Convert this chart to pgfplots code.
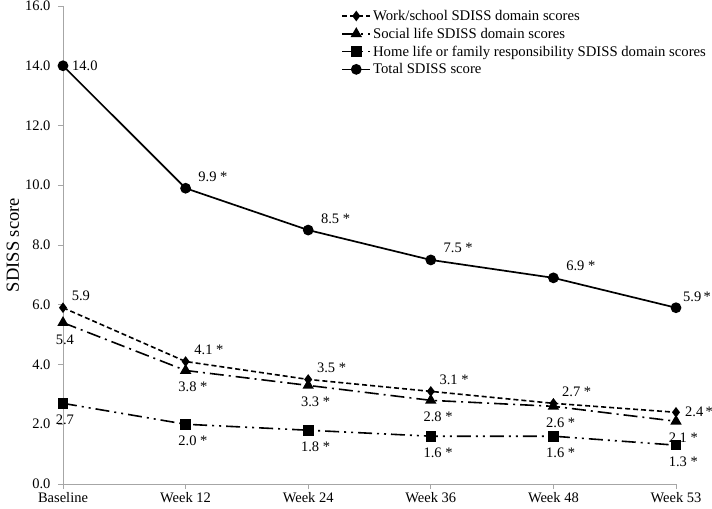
\documentclass[border=0pt]{standalone}
\usepackage{fontspec}
\setmainfont{Liberation Serif}
\usepackage{pgfplots}
\pgfplotsset{compat=1.18}
\newcommand{\lblfont}{\fontsize{14.5bp}{16bp}\selectfont}
\begin{document}
\begin{tikzpicture}
\begin{axis}[
    scale only axis,
    width=613bp, height=478bp,
    xmin=0, xmax=5, ymin=0, ymax=16,
    axis lines*=left,
    axis line style={gray!70, line width=0.8bp},
    tick style={gray!70, line width=0.8bp},
    tick align=outside,
    major tick length=5bp,
    xtick={0,1,2,3,4,5},
    xticklabels={Baseline,Week 12,Week 24,Week 36,Week 48,Week 53},
    ytick={0,2,...,16},
    yticklabel style={xshift=-4bp, /pgf/number format/.cd, fixed, fixed zerofill, precision=1},
    /pgf/number format/assume math mode=true,
    ticklabel style={font=\lblfont, black},
    ylabel={SDISS score},
    every axis y label/.style={at={(axis description cs:-0.082,0.5)}, rotate=90, anchor=center},
    ylabel style={font=\fontsize{18.5bp}{20bp}\selectfont},
    clip=false,
    point meta=explicit symbolic,
    nodes near coords,
    every node near coord/.append style={font=\lblfont, black, inner sep=2bp},
    legend style={at={(0.449,1)}, anchor=north west, draw=none, fill=none,
        font=\fontsize{14.7bp}{17bp}\selectfont, row sep=2bp,
        cells={anchor=west}},
    legend image code/.code={\draw[mark repeat=2,mark phase=2]
        plot coordinates {(0bp,0bp) (14bp,0bp) (28bp,0bp)};},
]
% Work/school
\addplot[black, line width=1.6bp, dash pattern=on 5bp off 3bp,
    mark=diamond*, mark size=4bp, mark options={solid},
    every node near coord/.append style={anchor=south west, xshift=6bp, yshift=4bp}]
coordinates {(0,5.9) [5.9] (1,4.1) [4.1 *] (2,3.5) [3.5 *] (3,3.1) [3.1 *] (4,2.7) [2.7 *] (5,2.4) []};
\addlegendentry{Work/school SDISS domain scores}
% Social life
\addplot[black, line width=1.6bp, dash pattern=on 14bp off 5bp on 2bp off 5bp,
    mark=triangle*, mark size=5bp, mark options={solid},
    every node near coord/.append style={anchor=north west, xshift=-10bp, yshift=-9bp}]
coordinates {(0,5.4) [5.4] (1,3.8) [3.8 *] (2,3.3) [3.3 *] (3,2.8) [2.8 *] (4,2.6) [2.6 *] (5,2.1) [2.1 *]};
\addlegendentry{Social life SDISS domain scores}
% Home life
\addplot[black, line width=1.6bp, dash pattern=on 14bp off 5bp on 2bp off 5bp on 2bp off 5bp,
    mark=square*, mark size=4.5bp, mark options={solid},
    every node near coord/.append style={anchor=north west, xshift=-10bp, yshift=-9bp}]
coordinates {(0,2.7) [2.7] (1,2.0) [2.0 *] (2,1.8) [1.8 *] (3,1.6) [1.6 *] (4,1.6) [1.6 *] (5,1.3) [1.3 *]};
\addlegendentry{Home life or family responsibility SDISS domain scores}
% Total
\addplot[black, line width=1.7bp, mark=*, mark size=4.5bp,
    every node near coord/.append style={anchor=south west, xshift=10bp, yshift=4bp}]
coordinates {(0,14.0) [] (1,9.9) [9.9 *] (2,8.5) [8.5 *] (3,7.5) [7.5 *] (4,6.9) [6.9 *] (5,5.9) []};
\addlegendentry{Total SDISS score}
% labels placed differently
\addplot[draw=none, forget plot,
    every node near coord/.append style={anchor=west, xshift=7bp}]
coordinates {(0,14.0) [14.0]};
\addplot[draw=none, forget plot,
    every node near coord/.append style={anchor=south west, xshift=5bp, yshift=4bp}]
coordinates {(5,5.9) [5.9\,*]};
\addplot[draw=none, forget plot,
    every node near coord/.append style={anchor=west, xshift=7bp}]
coordinates {(5,2.4) [2.4\,*]};
\end{axis}
\pgfresetboundingbox
\path (-63bp,-25bp) rectangle (649bp,484bp);
\end{tikzpicture}
\end{document}
